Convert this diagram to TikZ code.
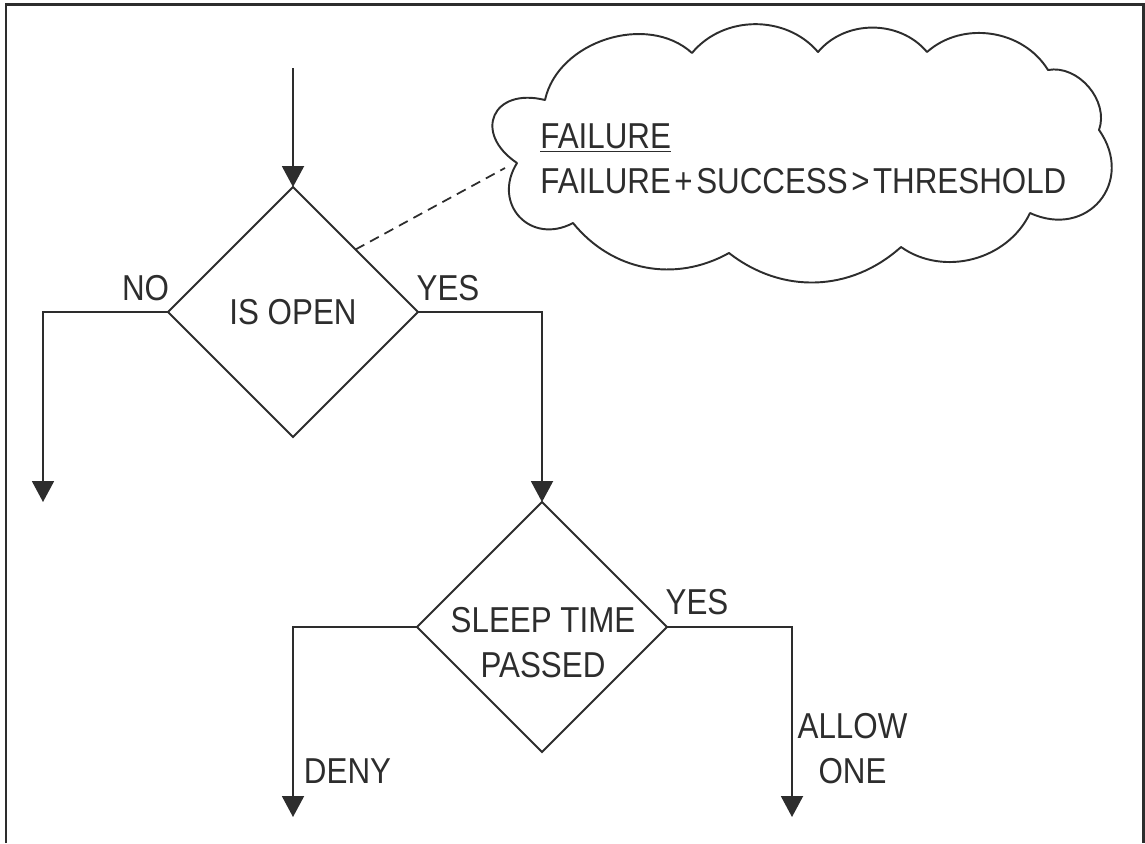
\documentclass[tikz,border=0pt]{standalone}
\usepackage{fontspec}
\setmainfont{Liberation Sans}[FakeStretch=0.87]
\usetikzlibrary{shapes.geometric,arrows.meta,calc}
\definecolor{ink}{RGB}{45,45,45}
\begin{document}
\begin{tikzpicture}[x=0.02cm,y=-0.02cm,
  font=\fontsize{20.5}{25.6}\selectfont,
  decision/.style={draw=ink, line width=1.1pt, shape=diamond, minimum width=5cm, minimum height=5cm, inner sep=0pt, outer sep=0pt},
  flow/.style={draw=ink, line width=1.1pt, -{Triangle[length=0.42cm,width=0.44cm]}},
  lbl/.style={inner sep=0pt, text=ink},
  note/.style={draw=ink, line width=1pt, dash pattern=on 0.2cm off 0.13cm},
  puffline/.style={draw=ink, line width=1.1pt, line join=round}
]
\useasboundingbox (0,0) rectangle (1145,843);
% frame
\draw[ink, line width=1.7pt] (6,843) -- (6,4) -- (1143,4) -- (1143,843);

% decisions
\node[decision] (d1) at (293,312) {};
\node[lbl] (d1text) at (293,312) {IS OPEN};
\node[decision] (d2) at (542,627) {};
\node[lbl, align=center] (d2text) at (543,642.5) {SLEEP TIME\\PASSED};

% free ends
\coordinate (start) at (293,68);
\coordinate (noend) at (43,502);
\coordinate (denyend) at (293,817);
\coordinate (allowend) at (792,817);

% connectors
\draw[flow] (start) -- (d1.north);
\draw[flow] (d1.west) -| (noend);
\draw[flow] (d1.east) -| (d2.north);
\draw[flow] (d2.west) -| (denyend);
\draw[flow] (d2.east) -| (allowend);

% labels
\node[lbl, anchor=base] (no) at (145.5,300) {NO};
\node[lbl, anchor=base] (yes1) at (448,300) {YES};
\node[lbl, anchor=base] (yes2) at (697,614) {YES};
\node[lbl, anchor=base] (deny) at (347.5,783) {DENY};
\node[lbl, align=center] (allow) at (852.5,749) {ALLOW\\ONE};

% cloud
\path[puffline] (545,100) to[bend left=60] (692,53) to[bend left=50] (818,52)
  to[bend left=50] (927,52) to[bend left=50] (1048,70) to[bend left=60] (1099,130)
  to[bend left=75,looseness=1.5] (1030,213) to[bend left=50] (901,247)
  to[bend left=40] (729,253) to[bend left=40] (573,223)
  to[bend left=75,looseness=1.5] (517,163) to[bend left=80,looseness=2] (545,100) -- cycle;
\node[lbl, anchor=north west, align=left] (cloudtext) at (540,123) {\underline{FAILURE}\\FAILURE\kern2pt+\kern2pt SUCCESS\kern2pt>\kern2pt THRESHOLD};

% dashed note connector
\coordinate (d1edge) at ($(d1.north)!0.5!(d1.east)$);
\coordinate (cloudtip) at (505,168);
\draw[note] (d1edge) -- (cloudtip);
\end{tikzpicture}
\end{document}
